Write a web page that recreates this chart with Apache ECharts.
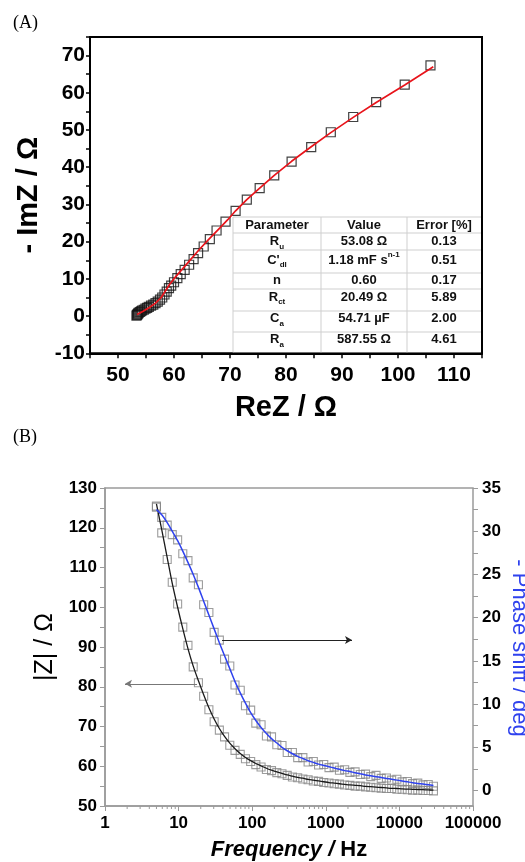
<!DOCTYPE html>
<html>
<head>
<meta charset="utf-8">
<script src="https://cdn.jsdelivr.net/npm/echarts@6/dist/echarts.min.js"></script>
<style>
  html, body { margin: 0; padding: 0; background: #fff; }
  #chart { width: 525px; height: 862px; }
</style>
</head>
<body>
<div id="chart"></div>
<script>
// ---- Panel A: Nyquist plot (measured points + equivalent-circuit fit) ----
const nyqRe = [53.3, 53.4, 53.5, 53.6, 53.7, 53.9, 54.1, 54.3, 54.6, 54.9, 55.2, 55.5, 55.9, 56.3, 56.7,
  57.1, 57.5, 57.9, 58.3, 58.7, 59.1, 59.5, 60.0, 60.6, 61.2, 61.9, 62.7, 63.5, 64.3, 65.3, 66.4, 67.6,
  69.2, 71.0, 73.0, 75.3, 77.9, 81.0, 84.5, 88.0, 92.0, 96.1, 101.2, 105.8];
const nyqIm = [0.1, 0.3, 0.5, 0.7, 0.9, 1.1, 1.3, 1.5, 1.7, 2.0, 2.2, 2.5, 2.8, 3.1, 3.5,
  3.9, 4.4, 5.0, 5.8, 6.6, 7.5, 8.2, 9.1, 10.2, 11.3, 12.4, 13.8, 15.3, 16.9, 18.7, 20.7, 23.0,
  25.4, 28.3, 31.3, 34.4, 37.8, 41.5, 45.4, 49.4, 53.5, 57.5, 62.2, 67.4];
const fitRe = [53.4, 54.5, 55.6, 56.7, 57.7, 58.4, 59.2, 60.2, 61.4, 62.8, 64.4, 66.2, 68.2, 69.6,
  71.0, 73.0, 75.3, 77.9, 81.0, 84.5, 88.0, 92.0, 96.1, 101.2, 106.3];
const fitIm = [0.4, 1.3, 2.3, 3.5, 5.0, 6.6, 8.5, 10.4, 12.5, 14.9, 17.7, 20.6, 23.7, 25.9,
  28.3, 31.3, 34.4, 37.8, 41.6, 45.5, 49.3, 53.4, 57.4, 62.1, 67.0];

// Fitted parameters shown in the inset table
const paramNames = ['{m|R}{sub|u}', "{m|C'}{sub|dl}", '{m|n}', '{m|R}{sub|ct}', '{m|C}{sub|a}', '{m|R}{sub|a}'];
const paramValues = ['{m|53.08 Ω}', '{m|1.18 mF s}{sup|n-1}', '{m|0.60}', '{m|20.49 Ω}', '{m|54.71 µF}', '{m|587.55 Ω}'];
const paramErrors = ['0.13', '0.51', '0.17', '5.89', '2.00', '4.61'];

// ---- Panel B: Bode plot ----
const freq = [5.0, 5.9, 7.0, 8.2, 9.7, 11.4, 13.4, 15.8, 18.6, 21.9, 25.8, 30.4, 35.8, 42.1, 49.6,
  58.4, 68.8, 81.0, 95.3, 112, 132, 156, 183, 216, 254, 299, 352, 415, 488, 575, 677, 797, 938,
  1105, 1301, 1532, 1804, 2124, 2501, 2945, 3468, 4083, 4808, 5662, 6667, 7850, 9244, 10885,
  12818, 15093, 17773, 20928, 24643, 29018];
const zMod = [125.2, 118.7, 112.0, 106.3, 100.8, 95.0, 90.4, 85.0, 81.0, 77.6, 74.2, 71.2, 69.1,
  67.4, 65.3, 64.0, 63.0, 61.9, 61.2, 60.4, 59.8, 59.2, 58.9, 58.4, 58.1, 57.7, 57.3, 57.1, 56.8,
  56.6, 56.3, 56.2, 55.9, 55.8, 55.6, 55.5, 55.3, 55.2, 55.0, 55.0, 54.8, 54.7, 54.6, 54.5, 54.4,
  54.4, 54.2, 54.2, 54.1, 54.0, 54.0, 53.9, 53.9, 53.8];
const zModFit = [126, 119.5, 112.5, 106, 100, 94.6, 89.6, 85.2, 81.5, 78, 74.7, 71.9, 69.5, 67.5,
  65.8, 64.4, 63.2, 62.2, 61.4, 60.7, 60.1, 59.5, 59.0, 58.6, 58.2, 57.8, 57.5, 57.2, 57.0, 56.7,
  56.5, 56.3, 56.1, 55.9, 55.75, 55.6, 55.45, 55.3, 55.2, 55.1, 54.95, 54.85, 54.75, 54.65, 54.55,
  54.45, 54.4, 54.3, 54.25, 54.2, 54.15, 54.1, 54.05, 54.0];
const phase = [32.9, 31.6, 30.7, 29.6, 29.0, 27.4, 26.6, 24.6, 23.8, 21.5, 20.6, 18.3, 17.4, 15.2,
  14.4, 12.2, 11.6, 9.8, 9.3, 7.8, 7.6, 6.3, 6.2, 5.3, 5.2, 4.4, 4.4, 3.8, 3.8, 3.3, 3.35, 2.95,
  3.0, 2.65, 2.7, 2.35, 2.4, 2.1, 2.15, 1.85, 1.9, 1.6, 1.75, 1.4, 1.45, 1.2, 1.3, 1.0, 1.05, 0.8,
  0.85, 0.65, 0.7, 0.5];
const phaseFit = [32.5, 31.9, 31.0, 30.0, 28.9, 27.7, 26.4, 25.0, 23.5, 21.9, 20.3, 18.7, 17.1,
  15.6, 14.1, 12.6, 11.3, 10.1, 9.0, 8.1, 7.3, 6.6, 6.0, 5.5, 5.0, 4.6, 4.25, 3.95, 3.7, 3.45,
  3.25, 3.05, 2.9, 2.75, 2.6, 2.45, 2.3, 2.2, 2.05, 1.95, 1.8, 1.7, 1.6, 1.5, 1.4, 1.3, 1.2, 1.1,
  1.0, 0.9, 0.82, 0.74, 0.66, 0.58];
// arrows pointing each curve to its axis: [from, to] as [Hz, |Z|]
const arrowPhase = [[38.9, 91.75], [2270, 91.75]];
const arrowMod = [[17.8, 80.75], [1.87, 80.75]];

const FONT = "'Liberation Sans', Arial, Helvetica, sans-serif";
const SERIF = "'Liberation Serif', 'Times New Roman', serif";
const BLUE = '#2f42ee';
const GREY = '#9a9a9a';

const pair = (xs, ys) => xs.map((x, i) => [x, ys[i]]);
const every = (step) => (v) => (Math.abs(v / step - Math.round(v / step)) < 1e-6 ? String(v) : '');

const chart = echarts.init(document.getElementById('chart'));

const boldLabel = (size) => ({ fontSize: size, fontWeight: 'bold', color: '#000', fontFamily: FONT });

const option = {
  animation: false,
  backgroundColor: '#fff',
  grid: [
    { left: 90, right: 43, top: 37, bottom: 508.7, show: true, borderColor: '#000', borderWidth: 2 },
    { left: 105, right: 52, top: 488, bottom: 54, show: true, borderColor: GREY, borderWidth: 1.5 },
    { left: 105, right: 52, top: 488, bottom: 71.5 }
  ],
  xAxis: [
    {
      gridIndex: 0, type: 'value', min: 45, max: 115, interval: 5,
      axisLine: { onZero: false, lineStyle: { color: '#000', width: 2 } },
      axisTick: { length: 5, lineStyle: { color: '#000', width: 1.5 } },
      axisLabel: Object.assign({ margin: 11, formatter: every(10) }, boldLabel(21)),
      splitLine: { show: false },
      name: 'ReZ / Ω', nameLocation: 'middle', nameGap: 40,
      nameTextStyle: { fontSize: 29, fontWeight: 'bold', color: '#000', fontFamily: FONT }
    },
    {
      gridIndex: 1, type: 'log', logBase: 10, min: 1, max: 100000,
      axisLine: { onZero: false, lineStyle: { color: GREY, width: 1.5 } },
      axisTick: { length: 5, lineStyle: { color: GREY, width: 1 } },
      axisLabel: Object.assign({ margin: 9, formatter: (v) => String(Math.round(v)) }, boldLabel(17)),
      splitLine: { show: false }, minorTick: { show: false },
      name: '{i|Frequency / }{n|Hz}', nameLocation: 'middle', nameGap: 33,
      nameTextStyle: {
        rich: {
          i: { fontSize: 22, fontWeight: 'bold', fontStyle: 'italic', color: '#000', fontFamily: FONT },
          n: { fontSize: 22, fontWeight: 'bold', color: '#000', fontFamily: FONT }
        }
      }
    },
    { gridIndex: 2, type: 'log', logBase: 10, min: 1, max: 100000, show: false }
  ],
  yAxis: [
    {
      gridIndex: 0, type: 'value', min: -10, max: 75, interval: 5,
      axisLine: { onZero: false, lineStyle: { color: '#000', width: 2 } },
      axisTick: { length: 4, lineStyle: { color: '#000', width: 1.5 } },
      axisLabel: Object.assign({ margin: 5, formatter: every(10) }, boldLabel(21)),
      splitLine: { show: false },
      name: '- ImZ / Ω', nameLocation: 'middle', nameGap: 43,
      nameTextStyle: { fontSize: 29, fontWeight: 'bold', color: '#000', fontFamily: FONT }
    },
    {
      gridIndex: 1, type: 'value', min: 50, max: 130, interval: 5,
      axisLine: { onZero: false, lineStyle: { color: GREY, width: 1.5 } },
      axisTick: { length: 5, lineStyle: { color: GREY, width: 1 } },
      axisLabel: Object.assign({ margin: 8, formatter: every(10) }, boldLabel(17)),
      splitLine: { show: false },
      name: '|Z| / Ω', nameLocation: 'middle', nameGap: 43,
      nameTextStyle: { fontSize: 25, color: '#000', fontFamily: FONT }
    },
    {
      gridIndex: 2, type: 'value', position: 'right', min: 0, max: 35, interval: 2.5,
      axisLine: { show: false, onZero: false },
      axisTick: { length: 5, lineStyle: { color: GREY, width: 1 } },
      axisLabel: Object.assign({ margin: 9, formatter: every(5) }, boldLabel(17)),
      splitLine: { show: false }
    }
  ],
  series: [
    {
      name: 'Nyquist data', type: 'scatter', xAxisIndex: 0, yAxisIndex: 0,
      data: pair(nyqRe, nyqIm), symbol: 'rect', symbolSize: 9,
      itemStyle: { color: 'rgba(255,255,255,0)', borderColor: '#111', borderWidth: 1.2 }, z: 2
    },
    {
      name: 'Nyquist fit', type: 'line', xAxisIndex: 0, yAxisIndex: 0,
      data: pair(fitRe, fitIm), showSymbol: false, symbol: 'none',
      lineStyle: { color: '#e8141b', width: 1.7 }, z: 3
    },
    {
      name: '|Z| data', type: 'scatter', xAxisIndex: 1, yAxisIndex: 1,
      data: pair(freq, zMod), symbol: 'rect', symbolSize: 8,
      itemStyle: { color: 'rgba(255,255,255,0)', borderColor: '#858585', borderWidth: 1.1 }, z: 2
    },
    {
      name: '|Z| fit', type: 'line', xAxisIndex: 1, yAxisIndex: 1,
      data: pair(freq, zModFit), showSymbol: false, symbol: 'none', smooth: 0.3,
      lineStyle: { color: '#1a1a1a', width: 1.3 }, z: 3,
      markLine: {
        silent: true, animation: false, symbol: ['none', 'arrow'], symbolSize: [6, 7],
        label: { show: false },
        data: [
          [{ coord: arrowPhase[0], lineStyle: { color: '#222', width: 1.2, type: 'solid' } }, { coord: arrowPhase[1] }],
          [{ coord: arrowMod[0], lineStyle: { color: '#777', width: 1, type: 'solid' } }, { coord: arrowMod[1] }]
        ]
      }
    },
    {
      name: 'Phase data', type: 'scatter', xAxisIndex: 2, yAxisIndex: 2,
      data: pair(freq, phase), symbol: 'rect', symbolSize: 8,
      itemStyle: { color: 'rgba(255,255,255,0)', borderColor: '#858585', borderWidth: 1.1 }, z: 2
    },
    {
      name: 'Phase fit', type: 'line', xAxisIndex: 2, yAxisIndex: 2,
      data: pair(freq, phaseFit), showSymbol: false, symbol: 'none', smooth: 0.3,
      lineStyle: { color: BLUE, width: 1.5 }, z: 3
    }
  ]
};

chart.setOption(option);

// ---- overlay: panel letters, right-hand axis title, parameter table, log minor ticks ----
const graphics = [];
graphics.push({ type: 'text', x: 13, y: 23, style: { text: '(A)', font: '18px ' + SERIF, fill: '#000', verticalAlign: 'middle' } });
graphics.push({ type: 'text', x: 13, y: 437, style: { text: '(B)', font: '18px ' + SERIF, fill: '#000', verticalAlign: 'middle' } });
graphics.push({
  type: 'text', x: 519, y: 648, rotation: -Math.PI / 2,
  style: { text: '- Phase shift / deg', font: '22px ' + FONT, fill: BLUE, align: 'center', verticalAlign: 'middle' }
});

// inset table in panel A
const tbl = { left: 233, right: 481, cols: [233, 321, 407, 481], rows: [217, 233, 250, 273, 289, 311, 332, 352.3],
  textY: [225.5, 241.5, 260, 280.5, 297, 318.5, 339.5] };
const rich = {
  m: { fontSize: 13, fontWeight: 'bold', fontFamily: FONT, fill: '#111', lineHeight: 18, verticalAlign: 'middle' },
  sub: { fontSize: 8, fontWeight: 'bold', fontFamily: FONT, fill: '#111', lineHeight: 7, verticalAlign: 'bottom' },
  sup: { fontSize: 8, fontWeight: 'bold', fontFamily: FONT, fill: '#111', lineHeight: 7, verticalAlign: 'top' }
};
graphics.push({ type: 'rect', shape: { x: tbl.left, y: tbl.rows[0], width: tbl.right - tbl.left, height: tbl.rows[7] - tbl.rows[0] },
  style: { fill: '#fff', stroke: null }, z: 10 });
tbl.rows.slice(0, 7).forEach((y) => {
  graphics.push({ type: 'line', shape: { x1: tbl.left, y1: y, x2: tbl.right, y2: y }, style: { stroke: '#cfcfcf', lineWidth: 1 }, z: 11 });
});
tbl.cols.slice(0, 3).forEach((x) => {
  graphics.push({ type: 'line', shape: { x1: x, y1: tbl.rows[0], x2: x, y2: tbl.rows[7] }, style: { stroke: '#cfcfcf', lineWidth: 1 }, z: 11 });
});
const colCenters = [277, 364, 444];
const headers = ['Parameter', 'Value', 'Error [%]'];
headers.forEach((h, c) => {
  graphics.push({ type: 'text', x: colCenters[c], y: tbl.textY[0], z: 12,
    style: { text: '{m|' + h + '}', rich, align: 'center', verticalAlign: 'middle' } });
});
for (let r = 0; r < 6; r++) {
  const cells = [paramNames[r], paramValues[r], '{m|' + paramErrors[r] + '}'];
  cells.forEach((t, c) => {
    graphics.push({ type: 'text', x: colCenters[c], y: tbl.textY[r + 1], z: 12,
      style: { text: t, rich, align: 'center', verticalAlign: 'middle' } });
  });
}

// logarithmic minor ticks (2..9 per decade) on the frequency axis
const axisY = chart.convertToPixel({ yAxisIndex: 1 }, 50);
for (let d = 1; d < 100000; d *= 10) {
  for (let k = 2; k <= 9; k++) {
    const px = chart.convertToPixel({ xAxisIndex: 1 }, d * k);
    graphics.push({ type: 'line', shape: { x1: px, y1: axisY, x2: px, y2: axisY + 3 },
      style: { stroke: GREY, lineWidth: 1 }, z: 5 });
  }
}

chart.setOption({ graphic: graphics });
</script>
</body>
</html>
